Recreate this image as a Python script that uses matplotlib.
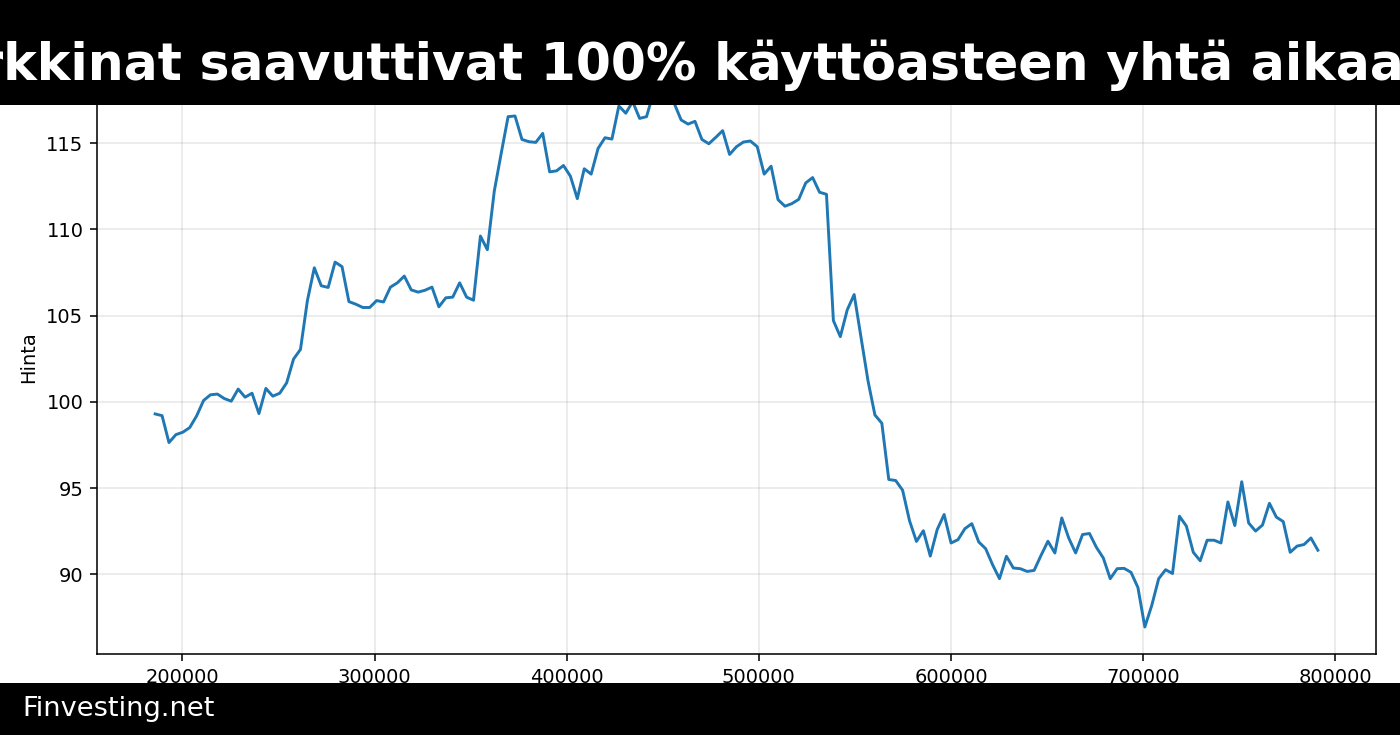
import matplotlib
matplotlib.use("Agg")
import matplotlib.pyplot as plt
from matplotlib.patches import Rectangle
import numpy as np

# x-akseli: tasavälinen, luettu kuvasta (alku, askel)
X_START = 185800
X_STEP = 3602

prices = [
    99.30, 99.20, 97.64, 98.10, 98.24, 98.51, 99.19, 100.08, 100.41, 100.45,
    100.19, 100.04, 100.74, 100.27, 100.50, 99.32, 100.78, 100.33, 100.50, 101.10,
    102.48, 103.04, 105.87, 107.77, 106.73, 106.63, 108.10, 107.84, 105.81, 105.66,
    105.47, 105.47, 105.87, 105.79, 106.65, 106.90, 107.29, 106.49, 106.36, 106.47,
    106.65, 105.51, 106.03, 106.07, 106.90, 106.07, 105.89, 109.61, 108.82, 112.21,
    114.40, 116.53, 116.57, 115.21, 115.08, 115.04, 115.56, 113.33, 113.39, 113.70,
    113.08, 111.78, 113.51, 113.20, 114.69, 115.31, 115.23, 117.15, 116.73, 117.40,
    116.43, 116.53, 117.90, 118.25, 118.00, 117.30, 116.34, 116.10, 116.26, 115.21,
    114.96, 115.33, 115.72, 114.34, 114.79, 115.06, 115.12, 114.79, 113.20, 113.66,
    111.72, 111.34, 111.49, 111.74, 112.69, 113.00, 112.15, 112.03, 104.71, 103.78,
    105.33, 106.22, 103.74, 101.22, 99.24, 98.76, 95.50, 95.44, 94.88, 93.11,
    91.91, 92.53, 91.06, 92.60, 93.47, 91.82, 92.01, 92.65, 92.94, 91.88,
    91.49, 90.56, 89.75, 91.05, 90.37, 90.33, 90.17, 90.23, 91.10, 91.92,
    91.24, 93.27, 92.11, 91.24, 92.31, 92.37, 91.57, 90.95, 89.75, 90.33,
    90.35, 90.12, 89.24, 86.95, 88.20, 89.75, 90.27, 90.05, 93.37, 92.80,
    91.28, 90.79, 91.98, 91.98, 91.82, 94.20, 92.83, 95.37, 92.98, 92.51,
    92.86, 94.12, 93.32, 93.06, 91.28, 91.64, 91.73, 92.11, 91.40,
]
volumes = X_START + X_STEP * np.arange(len(prices))

TITLE = "Markkinat saavuttivat 100% käyttöasteen yhtä aikaa"
Y_LABEL = "Hinta"
FOOTER = "Finvesting.net"

W, H = 1400, 735
fig = plt.figure(figsize=(10, 5.25), dpi=140)
fig.patch.set_facecolor("white")

ax = fig.add_axes([97 / W, 1 - 654 / H, (1376 - 97) / W, (654 - 60) / H])
ax.plot(volumes, prices, color="#1f77b4", linewidth=1.5)
ax.set_ylabel(Y_LABEL)
ax.grid(True, alpha=0.3)

# musta otsikkopalkki ylös
fig.add_artist(Rectangle((0, 1 - 105 / H), 1, 105 / H, transform=fig.transFigure,
                         facecolor="black", edgecolor="none", zorder=5))
fig.text(1404 / W, 1 - 80 / H, TITLE, color="white", fontsize=26,
         fontweight="bold", ha="right", va="baseline", zorder=6)

# alapalkki
fig.add_artist(Rectangle((0, 0), 1, (H - 683) / H, transform=fig.transFigure,
                         facecolor="black", edgecolor="none", zorder=5))
fig.text(22 / W, (H - 709) / H, FOOTER, color="white", fontsize=14,
         ha="left", va="center", zorder=6)

fig.savefig("out.png", dpi=140, facecolor=fig.get_facecolor())
